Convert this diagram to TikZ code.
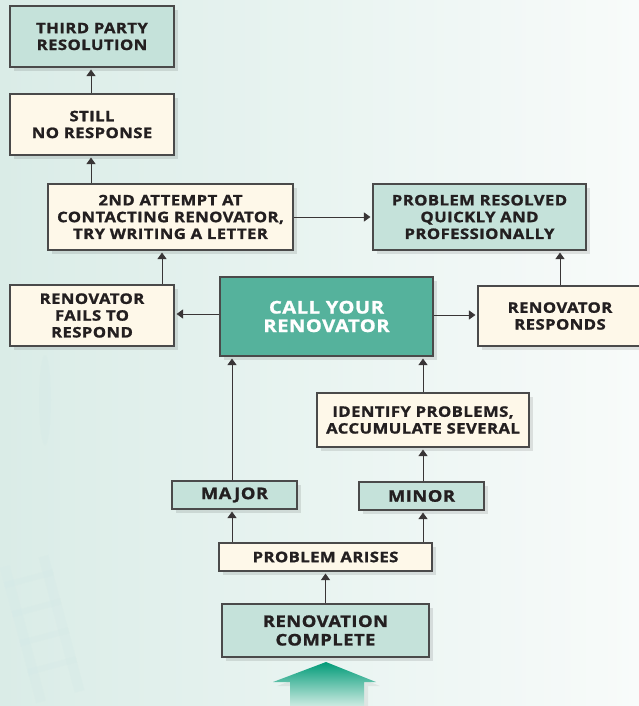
\documentclass[tikz,border=0pt]{standalone}
\usepackage{fontspec}
\usetikzlibrary{arrows.meta,shadows,calc}
\newfontfamily\bx[FakeStretch=1.15,LetterSpace=3,FakeBold=1.3]{Open Sans}
\definecolor{bgL}{HTML}{DAECE7}
\definecolor{bgM}{HTML}{E9F4F1}
\definecolor{bgR}{HTML}{F8FBFA}
\definecolor{tealL}{HTML}{C5E2DA}
\definecolor{cream}{HTML}{FEF8E9}
\definecolor{callc}{HTML}{55B29C}
\definecolor{edgec}{HTML}{4A4A4A}
\definecolor{txt}{HTML}{231F20}
\definecolor{arrTop}{HTML}{019B78}
\definecolor{arrBot}{HTML}{CDEBE2}
\tikzset{
  box/.style={draw=edgec, line width=1.1pt, inner sep=0pt, align=center,
    text=txt, font=\bx\bfseries\fontsize{14.5}{16.8}\selectfont,
    drop shadow={shadow xshift=4pt, shadow yshift=-4pt, fill=black, opacity=0.10}},
  tbox/.style={box, fill=tealL},
  cbox/.style={box, fill=cream},
  arr/.style={draw=txt!90, line width=0.9pt, shorten >=2pt,
    -{Triangle[width=9pt,length=6.5pt]}},
}
\begin{document}
\begin{tikzpicture}[x=1pt,y=-1pt]
\useasboundingbox (0,0) rectangle (639,706);
\shade[left color=bgL, right color=bgR, middle color=bgM] (0,0) rectangle (639,706);
% faint background silhouettes
\begin{scope}[fill=bgL!85!teal!60, opacity=0.35]
  \fill[rotate around={15:(40,640)}] (20,560) rectangle (30,700);
  \fill[rotate around={15:(40,640)}] (60,560) rectangle (70,700);
  \foreach \yy in {575,605,635,665} {\fill[rotate around={15:(40,640)}] (20,\yy) rectangle (70,\yy+6);}
  \fill (45,400) ellipse (6 and 45);
\end{scope}
% nodes
\node[tbox, minimum width=164, minimum height=61] (third) at (92,36.5) {THIRD PARTY\\RESOLUTION};
\node[cbox, minimum width=164, minimum height=61] (still) at (92,124.5) {STILL\\NO RESPONSE};
\node[cbox, minimum width=245, minimum height=66] (attempt) at (170.5,217) {2ND ATTEMPT AT\\CONTACTING RENOVATOR,\\TRY WRITING A LETTER};
\node[tbox, minimum width=213, minimum height=66] (resolved) at (479.5,217) {PROBLEM RESOLVED\\QUICKLY AND\\PROFESSIONALLY};
\node[cbox, minimum width=164, minimum height=61] (fails) at (92,315.5) {RENOVATOR\\FAILS TO\\RESPOND};
\node[box, fill=callc, text=white, font=\bx\bfseries\fontsize{17.5}{18.5}\selectfont, minimum width=213, minimum height=79] (call) at (326.5,316.5) {CALL YOUR\\RENOVATOR};
\node[cbox, minimum width=164, minimum height=60] (responds) at (560,316) {RENOVATOR\\RESPONDS};
\node[cbox, minimum width=212, minimum height=54] (identify) at (423,420) {IDENTIFY PROBLEMS,\\ACCUMULATE SEVERAL};
\node[tbox, minimum width=125, minimum height=28, font=\bx\bfseries\fontsize{16}{18}\selectfont] (major) at (234.5,495) {MAJOR};
\node[tbox, minimum width=125, minimum height=28, font=\bx\bfseries\fontsize{16}{18}\selectfont] (minor) at (421.5,496) {MINOR};
\node[cbox, minimum width=213, minimum height=28] (arises) at (325.5,557) {PROBLEM ARISES};
\node[tbox, minimum width=207, minimum height=53, font=\bx\bfseries\fontsize{16}{18.5}\selectfont] (complete) at (325.5,630.5) {RENOVATION\\COMPLETE};
% helper x positions
\coordinate (xa) at (91,0);
\coordinate (xf) at (162,0);
\coordinate (xmaj) at (232,0);
\coordinate (xmin) at (423,0);
\coordinate (xr) at (560,0);
% connectors
\draw[arr] (still.north -| xa) -- (third.south -| xa);
\draw[arr] (attempt.north -| xa) -- (still.south -| xa);
\draw[arr] (fails.north -| xf) -- (attempt.south -| xf);
\draw[arr] (attempt.east) -- (resolved.west);
\draw[arr] (call.west |- 0,314) -- (fails.east |- 0,314);
\draw[arr] (call.east |- 0,315) -- (responds.west |- 0,315);
\draw[arr] (responds.north -| xr) -- (resolved.south -| xr);
\draw[arr] (major.north -| xmaj) -- (call.south -| xmaj);
\draw[arr] (identify.north -| xmin) -- (call.south -| xmin);
\draw[arr] (minor.north -| xmin) -- (identify.south -| xmin);
\draw[arr] (arises.north -| xmaj) -- (major.south -| xmaj);
\draw[arr] (arises.north -| xmin) -- (minor.south -| xmin);
\draw[arr] (complete.north) -- (arises.south);
% big arrow
\fill[black, opacity=0.06] (330,666) -- (380,686) -- (368,686) -- (368,706) -- (294,706) -- (294,686) -- (277,686) -- cycle;
\shade[top color=arrTop, bottom color=arrBot] (326,662) -- (376,682) -- (364,682) -- (364,706) -- (290,706) -- (290,682) -- (273,682) -- cycle;
\end{tikzpicture}
\end{document}
